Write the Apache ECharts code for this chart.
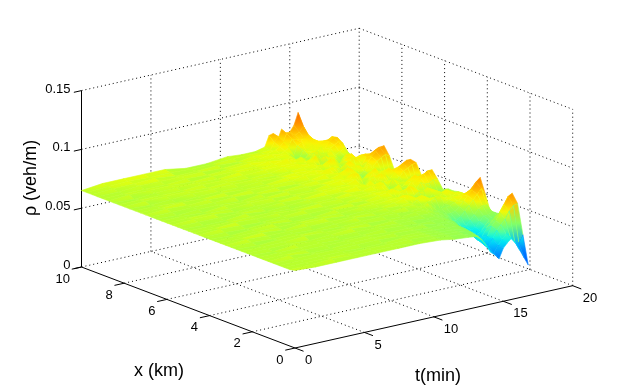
<!DOCTYPE html>
<html>
<head>
<meta charset="utf-8">
<style>html,body{margin:0;padding:0;background:#fff}#main{width:633px;height:391px}</style>
<script src="https://cdn.jsdelivr.net/npm/echarts@6/dist/echarts.min.js"></script>
</head>
<body>
<div id="main"></div>
<script>
// tick labels
var tTicks = [0, 5, 10, 15, 20];
var xTicks = [0, 2, 4, 6, 8, 10];
var zTicks = [0, 0.05, 0.1, 0.15];

// surface samples: time columns (min), road rows (km), density in veh/km
var tGrid = [0, 1.5, 3, 4.5, 6, 7.5, 9, 10.5, 11.5, 12.5, 13.2, 13.5, 13.8, 14.1, 14.4, 14.7, 15, 15.3, 15.6, 15.9, 16.2, 16.5, 16.8];
var xGrid = [10, 9.75, 9.5, 9.25, 9, 8.75, 8.5, 8.25, 8, 7.75, 7.5, 7.25, 7, 6.75, 6.5, 6.25, 6, 5.75, 5.5, 5.25, 5, 4.75, 4.5, 4.25, 4, 3.75, 3.5, 3.25, 3, 2.75, 2.5, 2.25, 2, 1.75, 1.5, 1.25, 1, 0.75, 0.5, 0.25, 0];
var rho = [
    [65, 67, 67, 67, 67, 64, 64, 66, 65, 65, 67, 76, 77, 70, 79, 75, 75, 80, 90, 74, 56, 58, 58],
    [65, 66, 67, 66, 66, 65, 65, 66, 66, 66, 66, 72, 76, 70, 77, 76, 74, 76, 80, 72, 58, 58, 58],
    [65, 66, 66, 67, 65, 65, 66, 65, 67, 66, 68, 70, 73, 68, 74, 73, 72, 72, 74, 70, 62, 60, 62],
    [65, 65, 66, 66, 66, 66, 65, 66, 66, 68, 66, 68, 70, 62, 70, 72, 68, 70, 72, 70, 66, 66, 66],
    [65, 65, 65, 65, 66, 65, 66, 67, 66, 67, 68, 66, 64, 60, 68, 66, 70, 68, 70, 72, 72, 74, 72],
    [65, 66, 66, 66, 65, 66, 66, 66, 68, 66, 67, 64, 58, 62, 66, 68, 66, 70, 68, 73, 75, 75, 68],
    [65, 64, 65, 66, 66, 65, 67, 66, 67, 69, 66, 68, 66, 64, 69, 70, 66, 64, 70, 72, 74, 72, 61],
    [65, 65, 65, 65, 66, 66, 66, 67, 67, 67, 68, 66, 62, 66, 64, 60, 68, 70, 66, 68, 70, 66, 60],
    [65, 66, 66, 66, 65, 66, 65, 66, 68, 68, 66, 70, 72, 68, 70, 68, 64, 66, 62, 66, 64, 62, 62],
    [65, 64, 65, 66, 66, 66, 66, 65, 66, 67, 68, 66, 64, 56, 66, 70, 60, 66, 70, 68, 66, 64, 65],
    [65, 65, 64, 65, 65, 65, 66, 66, 67, 66, 67, 68, 70, 72, 70, 66, 68, 70, 72, 68, 66, 68, 66],
    [65, 65, 66, 65, 66, 65, 65, 67, 66, 68, 66, 64, 66, 68, 64, 62, 68, 72, 70, 72, 72, 70, 70],
    [65, 66, 65, 66, 65, 66, 66, 66, 68, 67, 69, 70, 68, 66, 70, 72, 65, 62, 66, 72, 74, 76, 78],
    [65, 65, 65, 65, 66, 65, 66, 65, 66, 68, 67, 66, 62, 60, 68, 70, 69, 66, 70, 74, 78, 80, 81],
    [65, 64, 65, 65, 64, 66, 65, 66, 67, 66, 68, 70, 72, 70, 66, 64, 66, 70, 68, 72, 74, 76, 74],
    [65, 65, 64, 66, 65, 65, 66, 66, 66, 67, 66, 68, 66, 68, 62, 58, 64, 68, 66, 64, 60, 60, 63],
    [65, 65, 65, 65, 66, 66, 65, 65, 67, 68, 67, 72, 70, 64, 68, 70, 72, 66, 68, 66, 64, 62, 66],
    [65, 66, 66, 64, 65, 65, 66, 66, 66, 66, 69, 66, 62, 66, 70, 68, 66, 70, 72, 70, 68, 70, 72],
    [65, 65, 65, 65, 65, 66, 65, 67, 67, 67, 66, 64, 68, 70, 66, 72, 69, 66, 70, 74, 76, 78, 78],
    [65, 64, 64, 66, 64, 65, 66, 66, 66, 68, 67, 70, 66, 62, 68, 66, 62, 64, 68, 72, 74, 76, 77],
    [65, 65, 65, 65, 65, 64, 65, 65, 67, 66, 68, 66, 70, 68, 64, 70, 68, 66, 64, 66, 64, 62, 68],
    [65, 65, 66, 65, 66, 65, 66, 66, 66, 66, 66, 70, 68, 64, 60, 66, 64, 68, 70, 72, 70, 70, 72],
    [65, 66, 65, 64, 65, 66, 65, 65, 66, 67, 67, 66, 64, 68, 70, 62, 66, 70, 68, 72, 74, 76, 76],
    [65, 65, 64, 65, 65, 65, 65, 66, 65, 67, 68, 70, 68, 66, 64, 68, 68, 66, 70, 68, 68, 70, 70],
    [65, 64, 65, 66, 64, 64, 66, 65, 66, 66, 66, 64, 68, 70, 72, 70, 66, 64, 62, 62, 60, 60, 63],
    [65, 65, 65, 65, 65, 65, 65, 66, 66, 67, 67, 68, 66, 62, 66, 68, 68, 70, 68, 66, 64, 62, 65],
    [65, 65, 66, 64, 66, 66, 64, 65, 65, 66, 68, 70, 68, 66, 64, 60, 62, 66, 68, 66, 64, 64, 65],
    [65, 66, 65, 65, 65, 65, 65, 65, 66, 65, 66, 65, 67, 70, 68, 66, 66, 64, 68, 70, 68, 66, 66],
    [65, 65, 64, 65, 64, 65, 66, 64, 65, 66, 66, 64, 64, 66, 66, 68, 69, 67, 66, 66, 68, 68, 66],
    [65, 64, 65, 65, 65, 64, 65, 65, 65, 64, 65, 66, 68, 64, 62, 60, 64, 66, 68, 68, 68, 68, 67],
    [65, 65, 65, 66, 65, 65, 65, 64, 64, 65, 65, 64, 62, 62, 63, 64, 64, 66, 66, 70, 72, 74, 75],
    [65, 65, 65, 64, 65, 66, 64, 65, 64, 64, 64, 64, 63, 62, 60, 60, 61, 64, 68, 72, 76, 82, 85],
    [65, 64, 66, 65, 65, 65, 65, 64, 64, 63, 63, 62, 61, 60, 57, 56, 58, 62, 66, 70, 74, 78, 72],
    [65, 65, 65, 65, 64, 64, 65, 64, 63, 63, 63, 62, 60, 58, 55, 52, 52, 56, 60, 64, 66, 66, 58],
    [65, 65, 65, 65, 65, 65, 64, 64, 64, 62, 62, 62, 60, 56, 52, 50, 50, 52, 56, 60, 60, 62, 60],
    [65, 66, 64, 64, 65, 65, 65, 64, 63, 63, 62, 60, 58, 55, 50, 48, 48, 50, 54, 58, 58, 60, 61],
    [65, 65, 65, 65, 65, 65, 64, 64, 63, 62, 62, 60, 58, 55, 50, 46, 48, 54, 58, 62, 64, 66, 60],
    [65, 65, 65, 65, 64, 64, 65, 64, 63, 62, 61, 59, 57, 54, 48, 46, 50, 58, 62, 68, 74, 80, 82],
    [65, 65, 65, 65, 65, 65, 65, 64, 63, 62, 61, 59, 56, 52, 46, 44, 50, 56, 60, 64, 70, 74, 75],
    [65, 65, 66, 65, 65, 65, 64, 64, 63, 62, 60, 57, 54, 50, 44, 40, 46, 50, 54, 50, 46, 44, 50],
    [66, 65, 65, 65, 65, 65, 65, 64, 62, 61, 60, 56, 50, 44, 41, 37, 45, 49, 52, 47, 40, 33, 26]
];

// colour ramp (jet like), density -> colour
var rampValues = [26, 37, 44, 50, 55, 60, 63, 65, 67, 71, 77, 85, 100];
var rampColors = ['#0050ff', '#0078ff', '#00b4ff', '#00f0f0', '#50ffa0', '#8cff5a', '#a0ff46', '#b9ff2d', '#e1ff0f', '#fff000', '#ffb400', '#ff8000', '#f03c00'];

function rhoColor(v) {
    if (v <= rampValues[0]) return rampColors[0];
    for (var i = 1; i < rampValues.length; i++) {
        if (v <= rampValues[i]) {
            return echarts.color.lerp((v - rampValues[i - 1]) / (rampValues[i] - rampValues[i - 1]), [rampColors[i - 1], rampColors[i]]);
        }
    }
    return rampColors[rampColors.length - 1];
}

// view of the 3d box: matlab like orthographic projection
function project(t, x, z) {
    return [295 + 13.885 * t - 21.35 * x, 348 - 3.115 * t - 8.1 * x - 1176 * z];
}

// grid lines and axes of the box
var boxLines = [];
function addLine(a, b, solid) {
    boxLines.push([a[0], a[1], a[2], b[0], b[1], b[2], solid ? 1 : 0]);
}
var tMax = tTicks[tTicks.length - 1], xMax = xTicks[xTicks.length - 1], zMax = zTicks[zTicks.length - 1];
tTicks.forEach(function (t) {
    if (t > 0) {
        addLine([t, 0, 0], [t, xMax, 0]);
        addLine([t, xMax, 0], [t, xMax, zMax]);
    }
    addLine([t, 0, 0], [t, -0.4, 0], true);
});
xTicks.forEach(function (x) {
    if (x > 0) addLine([0, x, 0], [tMax, x, 0]);
    if (x < xMax) addLine([tMax, x, 0], [tMax, x, zMax]);
    addLine([0, x, 0], [-0.7, x, 0], true);
});
zTicks.forEach(function (z) {
    if (z > 0) {
        addLine([0, xMax, z], [tMax, xMax, z]);
        addLine([tMax, xMax, z], [tMax, 0, z]);
    }
    addLine([0, xMax, z], [-0.55, xMax, z], true);
});
addLine([0, xMax, 0], [0, xMax, zMax], true);
addLine([0, 0, 0], [0, xMax, 0], true);
addLine([0, 0, 0], [tMax, 0, 0], true);

// surface cells, far ones first so the near ones paint over them
var cells = [];
for (var r = 0; r < xGrid.length - 1; r++) {
    for (var c = tGrid.length - 2; c >= 0; c--) {
        cells.push([r, c]);
    }
}

// tick label texts
var tickLabels = [];
tTicks.forEach(function (t) { tickLabels.push([t, 0, 0, String(t), 10, 12.5, 'left']); });
xTicks.forEach(function (x) { tickLabels.push([0, x, 0, String(x), -11.5, 12, 'right']); });
zTicks.forEach(function (z) { tickLabels.push([0, xMax, z, String(z), -11, -1.5, 'right']); });

var font = '"Liberation Sans", Arial, sans-serif';
var myChart = echarts.init(document.getElementById('main'));
var option = {
    backgroundColor: '#fff',
    animation: false,
    grid: { left: 0, right: 0, top: 0, bottom: 0 },
    xAxis: { type: 'value', min: 0, max: 633, show: false },
    yAxis: { type: 'value', min: 0, max: 391, inverse: true, show: false },
    graphic: [
        { type: 'text', left: 134, top: 362, style: { text: 'x (km)', font: '18px ' + font, fill: '#000' } },
        { type: 'text', left: 415, top: 367, style: { text: 't(min)', font: '18px ' + font, fill: '#000' } },
        { type: 'text', x: 31, y: 178, rotation: Math.PI / 2, style: { text: 'ρ (veh/m)', font: '18px ' + font, fill: '#000', align: 'center', verticalAlign: 'middle' } }
    ],
    series: [
        {
            type: 'custom',
            coordinateSystem: 'cartesian2d',
            silent: true,
            clip: false,
            data: boxLines,
            renderItem: function (params, api) {
                var a = api.coord(project(api.value(0), api.value(1), api.value(2)));
                var b = api.coord(project(api.value(3), api.value(4), api.value(5)));
                var solid = api.value(6) === 1;
                return {
                    type: 'line',
                    shape: { x1: a[0], y1: a[1], x2: b[0], y2: b[1] },
                    style: { stroke: '#000', lineWidth: 1, lineDash: solid ? null : [1, 3] }
                };
            }
        },
        {
            type: 'custom',
            coordinateSystem: 'cartesian2d',
            silent: true,
            clip: false,
            z: 3,
            progressive: 0,
            data: cells,
            renderItem: function (params, api) {
                var r = api.value(0), c = api.value(1);
                var corners = [[r, c], [r, c + 1], [r + 1, c + 1], [r + 1, c]];
                var pts = [], top = null, bottom = null, sum = 0;
                corners.forEach(function (k) {
                    var v = rho[k[0]][k[1]];
                    var p = api.coord(project(tGrid[k[1]], xGrid[k[0]], v / 1000));
                    pts.push(p);
                    sum += v;
                    if (!top || p[1] < top.y) top = { y: p[1], v: v };
                    if (!bottom || p[1] > bottom.y) bottom = { y: p[1], v: v };
                });
                var mid = (top.v + bottom.v) / 2;
                var fill = new echarts.graphic.LinearGradient(0, top.y, 0, bottom.y, [
                    { offset: 0, color: rhoColor(top.v) },
                    { offset: 0.5, color: rhoColor(mid) },
                    { offset: 1, color: rhoColor(bottom.v) }
                ], true);
                return {
                    type: 'polygon',
                    shape: { points: pts },
                    style: { fill: fill, stroke: rhoColor(sum / 4), lineWidth: 0.6 }
                };
            }
        },
        {
            type: 'custom',
            coordinateSystem: 'cartesian2d',
            silent: true,
            clip: false,
            z: 4,
            data: tickLabels.map(function (d, i) { return [d[0], d[1], d[2], i]; }),
            renderItem: function (params, api) {
                var d = tickLabels[api.value(3)];
                var p = api.coord(project(api.value(0), api.value(1), api.value(2)));
                return {
                    type: 'text',
                    style: {
                        x: p[0] + d[4],
                        y: p[1] + d[5],
                        text: d[3],
                        font: '13px ' + font,
                        fill: '#000',
                        align: d[6],
                        verticalAlign: 'middle'
                    }
                };
            }
        }
    ]
};
myChart.setOption(option);
</script>
</body>
</html>
